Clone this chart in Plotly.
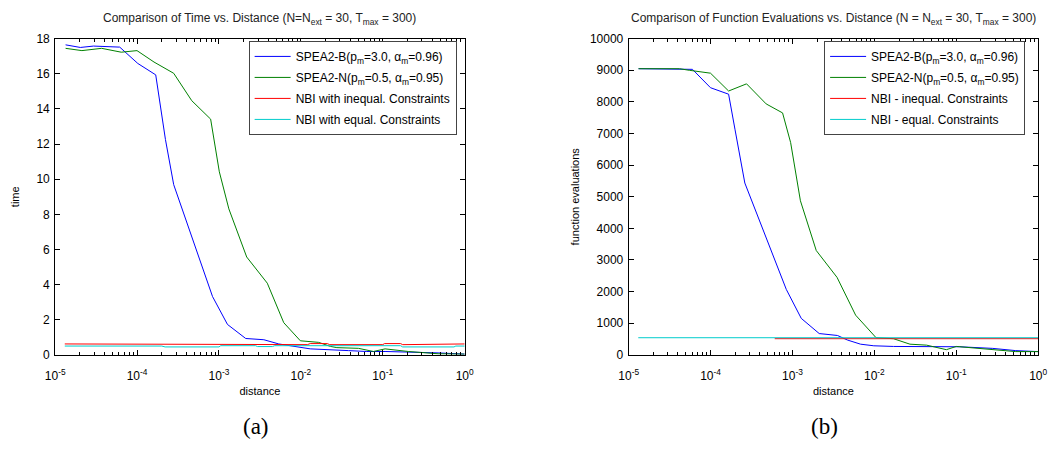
import plotly.graph_objects as go

# ---------------- data: (a) time vs distance ----------------
time_b_x = [1.34e-5, 2.03e-5, 2.94e-5, 6.14e-5, 1.02e-4, 1.69e-4, 2.22e-4, 2.80e-4, 8.34e-4,
            1.27e-3, 2.12e-3, 3.53e-3, 5.37e-3, 9.42e-3, 0.0130, 0.0382, 0.0638, 0.1067, 0.271, 0.474, 1.0]
time_b_y = [17.65, 17.50, 17.58, 17.52, 16.59, 15.94, 12.26, 9.69, 3.32,
            1.73, 0.93, 0.86, 0.62, 0.43, 0.34, 0.24, 0.19, 0.19, 0.15, 0.11, 0.04]

time_n_x = [1.34e-5, 2.12e-5, 3.69e-5, 6.41e-5, 9.98e-5, 1.61e-4, 2.80e-4, 4.65e-4, 7.91e-4, 1.01e-3,
            1.32e-3, 2.18e-3, 3.89e-3, 6.18e-3, 9.86e-3, 0.0165, 0.0229, 0.0275, 0.0505, 0.0769,
            0.1067, 0.205, 0.474, 1.0]
time_n_y = [17.45, 17.32, 17.45, 17.23, 17.32, 16.67, 16.03, 14.47, 13.42, 10.42,
            8.31, 5.57, 4.08, 1.83, 0.80, 0.71, 0.48, 0.41, 0.37, 0.19,
            0.34, 0.19, 0.06, 0.04]

time_ineq_x = [1.31e-5, 1.0e-3, 1.05e-3, 1.6e-3, 1.7e-3, 2.8e-3, 2.95e-3, 1.2e-2, 1.3e-2, 2.1e-2,
               2.25e-2, 0.1, 0.105, 0.165, 0.175, 0.74, 0.78, 1.0]
time_ineq_y = [0.62, 0.62, 0.58, 0.58, 0.62, 0.62, 0.58, 0.58, 0.64, 0.64,
               0.58, 0.58, 0.64, 0.64, 0.58, 0.58, 0.62, 0.62]

time_eq_x = [1.31e-5, 2.0e-4, 2.2e-4, 1.0e-3, 1.05e-3, 2.8e-3, 2.95e-3, 4.5e-3, 4.8e-3, 1.2e-2,
             1.3e-2, 0.1, 0.105, 0.165, 0.175, 0.74, 0.78, 1.0]
time_eq_y = [0.50, 0.50, 0.45, 0.45, 0.52, 0.52, 0.47, 0.47, 0.52, 0.52,
             0.48, 0.48, 0.52, 0.52, 0.45, 0.45, 0.50, 0.50]

# ---------------- data: (b) function evaluations vs distance ----------------
fe_b_x = [1.32e-5, 4.17e-5, 6.01e-5, 9.98e-5, 1.66e-4, 1.99e-4, 2.62e-4, 8.4e-4, 1.28e-3, 2.12e-3,
          3.54e-3, 4.68e-3, 6.78e-3, 9.84e-3, 0.0171, 0.11, 0.278, 0.532, 1.0]
fe_b_y = [9050, 9030, 9030, 8449, 8244, 7119, 5434, 2071, 1153, 673,
          612, 469, 337, 286, 265, 255, 204, 133, 102]

fe_n_x = [1.32e-5, 4.17e-5, 5.5e-5, 9.98e-5, 1.66e-4, 2.75e-4, 4.77e-4, 7.57e-4, 9.5e-4, 1.25e-3,
          1.95e-3, 3.5e-3, 5.9e-3, 9.84e-3, 1.05e-2, 0.0171, 0.0272, 0.0434, 0.0757, 0.1,
          0.175, 0.334, 0.532, 1.0]
fe_n_y = [9050, 9050, 9000, 8909, 8345, 8572, 7937, 7652, 6712, 4873,
          3300, 2450, 1255, 592, 540, 510, 337, 306, 163, 265,
          204, 133, 102, 102]

fe_ineq_x = [6.07e-4, 1.0]
fe_ineq_y = [510, 510]

fe_eq_x = [1.31e-5, 1.0]
fe_eq_y = [541, 541]

names_a = ["SPEA2-B(p<sub>m</sub>=3.0, α<sub>m</sub>=0.96)",
           "SPEA2-N(p<sub>m</sub>=0.5, α<sub>m</sub>=0.95)",
           "NBI with inequal. Constraints",
           "NBI with equal. Constraints"]
names_b = ["SPEA2-B(p<sub>m</sub>=3.0, α<sub>m</sub>=0.96)",
           "SPEA2-N(p<sub>m</sub>=0.5, α<sub>m</sub>=0.95)",
           "NBI - inequal. Constraints",
           "NBI - equal. Constraints"]
colors = ["#0000ff", "#008000", "#ff0000", "#00cccc"]

x_tickvals = [1e-5, 1e-4, 1e-3, 1e-2, 1e-1, 1e0]
x_ticktext = ["10<sup>-5</sup>", "10<sup>-4</sup>", "10<sup>-3</sup>",
              "10<sup>-2</sup>", "10<sup>-1</sup>", "10<sup>0</sup>"]
time_ticks = list(range(0, 19, 2))
fe_ticks = list(range(0, 10001, 1000))

title_a = "Comparison of Time vs. Distance (N=N<sub>ext</sub> = 30, T<sub>max</sub> = 300)"
title_b = "Comparison of Function Evaluations vs. Distance (N = N<sub>ext</sub> = 30, T<sub>max</sub> = 300)"

# ---------------- figure ----------------
W, H = 1057, 450
FONT = "Liberation Sans, Arial, sans-serif"

def px(x):
    return x / W

def py(y):
    return 1 - y / H

fig = go.Figure()

series_a = [(time_b_x, time_b_y), (time_n_x, time_n_y), (time_ineq_x, time_ineq_y), (time_eq_x, time_eq_y)]
series_b = [(fe_b_x, fe_b_y), (fe_n_x, fe_n_y), (fe_ineq_x, fe_ineq_y), (fe_eq_x, fe_eq_y)]

for i, (xs, ys) in enumerate(series_a):
    fig.add_trace(go.Scatter(x=xs, y=ys, mode="lines", name=names_a[i],
                             line=dict(color=colors[i], width=1),
                             xaxis="x", yaxis="y", legend="legend",
                             legendgroup="a%d" % i))
for i, (xs, ys) in enumerate(series_b):
    fig.add_trace(go.Scatter(x=xs, y=ys, mode="lines", name=names_b[i],
                             line=dict(color=colors[i], width=1),
                             xaxis="x2", yaxis="y2", legend="legend2",
                             legendgroup="b%d" % i))

minor_vals = [k * 10 ** e for e in range(-5, 0) for k in range(2, 10)]

def xaxis_cfg(domain, anchor):
    return dict(type="log", domain=domain, anchor=anchor, range=[-5, 0],
                tickvals=x_tickvals, ticktext=x_ticktext,
                ticks="inside", ticklen=5, tickcolor="black", ticklabelstandoff=10,
                minor=dict(tickvals=minor_vals, ticks="inside", ticklen=3, tickcolor="black", showgrid=False),
                showline=True, linecolor="black", linewidth=1, mirror="ticks",
                showgrid=False, zeroline=False,
                tickfont=dict(family=FONT, size=12, color="black"),
                title=dict(text="distance", font=dict(family=FONT, size=11, color="black"), standoff=5))

def yaxis_cfg(domain, anchor, rng, ticks, title, standoff):
    return dict(domain=domain, anchor=anchor, range=rng, tickvals=ticks,
                ticktext=[str(t) for t in ticks],
                ticks="inside", ticklen=5, tickcolor="black", ticklabelstandoff=2,
                showline=True, linecolor="black", linewidth=1, mirror="ticks",
                showgrid=False, zeroline=False,
                tickfont=dict(family=FONT, size=12, color="black"),
                title=dict(text=title, font=dict(family=FONT, size=11, color="black"), standoff=standoff))

ydom = [py(359), py(32.7)]
fig.update_layout(
    width=W, height=H,
    margin=dict(l=0, r=0, t=0, b=0),
    paper_bgcolor="white", plot_bgcolor="white",
    showlegend=True,
    xaxis=xaxis_cfg([px(46), px(463)], "y"),
    yaxis=yaxis_cfg(ydom, "x", [0, 18], time_ticks, "time", 14),
    xaxis2=xaxis_cfg([px(630), px(1047)], "y2"),
    yaxis2=yaxis_cfg(ydom, "x2", [0, 10000], fe_ticks, "function evaluations", 8),
    legend=dict(x=px(243), y=py(35), xanchor="left", yanchor="top",
                bgcolor="white", bordercolor="#444444", borderwidth=1,
                font=dict(family=FONT, size=12, color="black"),
                tracegroupgap=2, itemwidth=36),
    legend2=dict(x=px(829), y=py(35), xanchor="left", yanchor="top",
                 bgcolor="white", bordercolor="#444444", borderwidth=1,
                 font=dict(family=FONT, size=12, color="black"),
                 tracegroupgap=2, itemwidth=36),
    annotations=[
        dict(text=title_a, x=px(254.5), y=py(12), xref="paper", yref="paper",
             xanchor="center", yanchor="middle", showarrow=False,
             font=dict(family=FONT, size=12, color="#222222")),
        dict(text=title_b, x=px(838.5), y=py(12), xref="paper", yref="paper",
             xanchor="center", yanchor="middle", showarrow=False,
             font=dict(family=FONT, size=12, color="#222222")),
        dict(text="(a)", x=px(251), y=py(433), xref="paper", yref="paper",
             xanchor="center", yanchor="middle", showarrow=False,
             font=dict(family="Liberation Serif, DejaVu Serif, serif", size=23, color="black")),
        dict(text="(b)", x=px(829), y=py(433), xref="paper", yref="paper",
             xanchor="center", yanchor="middle", showarrow=False,
             font=dict(family="Liberation Serif, DejaVu Serif, serif", size=23, color="black")),
    ],
)

fig.write_html("out.html")
